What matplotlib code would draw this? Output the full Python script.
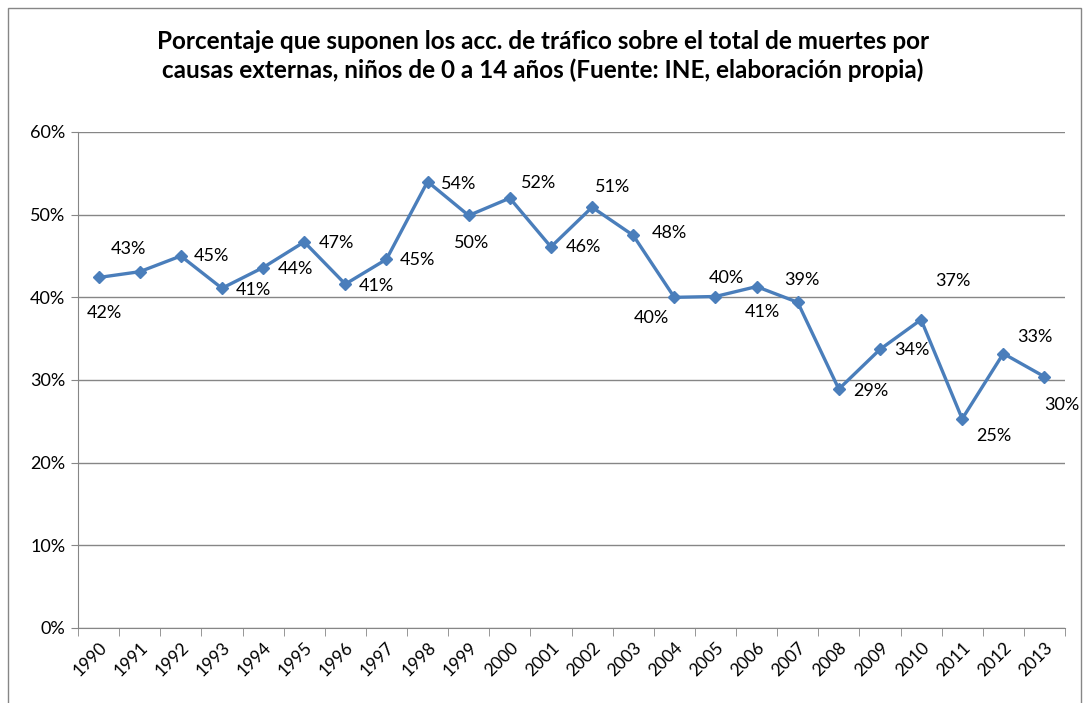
import matplotlib
matplotlib.use("Agg")
import matplotlib.pyplot as plt
from matplotlib.patches import Rectangle
from matplotlib.ticker import FuncFormatter, MultipleLocator

plt.rcParams["font.family"] = ["Lato", "DejaVu Sans"]

years = [str(y) for y in range(1990, 2014)]
pct = [42.4, 43.1, 45.0, 41.1, 43.6, 46.7, 41.6, 44.6, 54.0, 49.9, 52.0, 46.1,
       50.9, 47.5, 40.0, 40.1, 41.3, 39.4, 28.9, 33.7, 37.3, 25.3, 33.2, 30.4]
labels = ["42%", "43%", "45%", "41%", "44%", "47%", "41%", "45%", "54%", "50%",
          "52%", "46%", "51%", "48%", "40%", "40%", "41%", "39%", "29%", "34%",
          "37%", "25%", "33%", "30%"]
title = ("Porcentaje que suponen los acc. de tráfico sobre el total de muertes por\n"
         "causas externas, niños de 0 a 14 años (Fuente: INE, elaboración propia)")

# label offsets in pixels (dx, dy)
offsets = [(6, -36), (-11, 23), (31, 0), (31, -2), (32, -1), (32, -1), (31, -2),
           (31, -1), (31, -2), (3, -28), (29, 15), (32, 0), (21, 20), (36, 2),
           (-23, -21), (11, 19), (6, -25), (4, 22), (32, -2), (32, -1), (32, 39),
           (32, -17), (32, 17), (17, -28)]

fig = plt.figure(figsize=(10.86, 7.03), dpi=100)
fig.patches.append(Rectangle((8 / 1086, -0.01), 1073 / 1086, 1 - 8 / 703 + 0.01,
                             transform=fig.transFigure, fill=False,
                             edgecolor="#868686", linewidth=1.0))
ax = fig.add_axes([78 / 1086, 75 / 703, 987 / 1086, 496 / 703])

x = list(range(len(years)))
ax.plot(x, pct, color="#4A7EBB", linewidth=2.4, marker="D", markersize=6,
        markerfacecolor="#4A7EBB", markeredgecolor="#4A7EBB")

for xi, yi, lab, (dx, dy) in zip(x, pct, labels, offsets):
    ax.annotate(lab, (xi, yi), xytext=(dx * 0.72, dy * 0.72),
                textcoords="offset points", ha="center", va="center",
                fontsize=13, color="black")

ax.set_xlim(-0.5, len(years) - 0.5)
ax.set_ylim(0, 60)
ax.yaxis.set_major_locator(MultipleLocator(10))
ax.yaxis.set_major_formatter(FuncFormatter(lambda v, _: f"{v:.0f}%"))
ax.grid(axis="y", color="#868686", linewidth=1.0)
ax.set_axisbelow(True)

ax.set_xticks(x)
ax.set_xticklabels(years, rotation=45, ha="right", rotation_mode="anchor",
                   fontsize=12.5)
ax.set_xticks([i - 0.5 for i in range(len(years) + 1)], minor=True)
ax.tick_params(axis="x", which="major", length=0, pad=8)
ax.tick_params(axis="x", which="minor", length=6, color="#868686")
ax.tick_params(axis="y", length=5, color="#868686", labelsize=13, pad=4)

for side in ["top", "right"]:
    ax.spines[side].set_visible(False)
for side in ["left", "bottom"]:
    ax.spines[side].set_color("#868686")

fig.text(0.5, 1 - 56 / 703, title, ha="center", va="center", fontsize=17.5,
         fontweight="bold", linespacing=1.3)

fig.savefig("out.png", dpi=100)
